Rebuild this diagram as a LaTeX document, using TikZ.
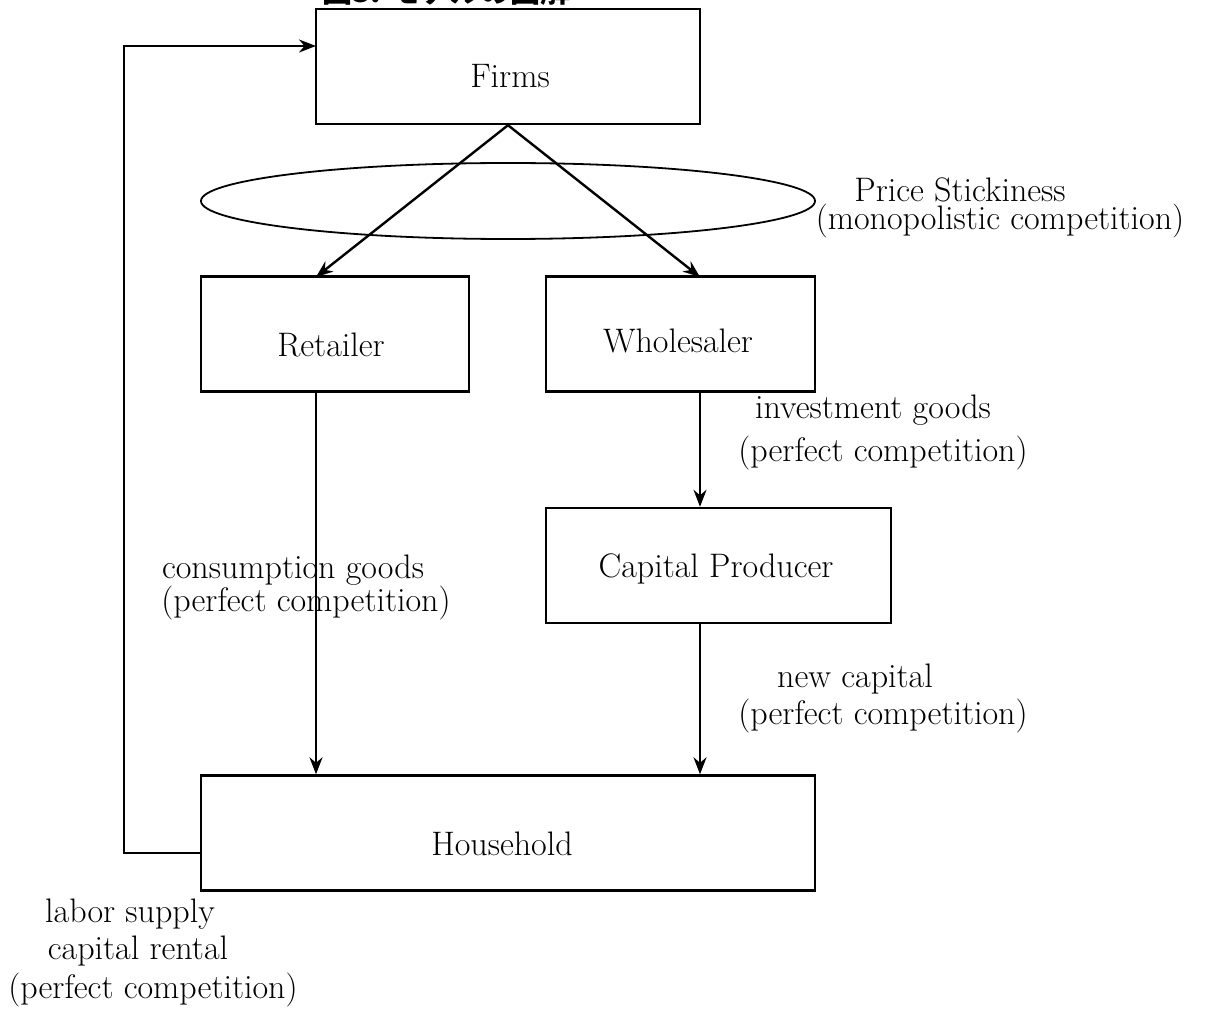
\documentclass[tikz,border=0pt]{standalone}
\usepackage{fontspec}
\newfontfamily\cjk{Noto Sans CJK JP}
\usetikzlibrary{arrows.meta}
\begin{document}
\begin{tikzpicture}[x=1pt,y=-1pt,
  every node/.style={font=\fontsize{34}{40}\selectfont},
  box/.style={draw,line width=2.4pt,minimum width=#1,minimum height=115pt,inner sep=0pt},
  lbl/.style={inner sep=0pt,align=center},
  arr/.style={line width=2.4pt,-{Stealth[length=17pt,width=13pt]}},
  ln/.style={line width=2.4pt}]
\useasboundingbox (0,0) rectangle (1205,1011);
\node[inner sep=0pt,anchor=base west,font=\cjk\bfseries\fontsize{30}{34}\selectfont] (title) at (322,3) {図3. モデルの図解};
\node[box=384pt] (firms) at (508,66.5) {};
\node[lbl] (firmsT) at (510,76) {Firms};
\draw[line width=1.8pt] (508,201) ellipse [x radius=307, y radius=38];
\node[lbl] (ps1) at (960,190) {Price Stickiness};
\node[lbl] (ps2) at (1000,221) {(monopolistic competition)};
\node[box=268pt] (ret) at (335,334) {};
\node[lbl] (retT) at (331,345) {Retailer};
\node[box=269pt] (whole) at (680.5,334) {};
\node[lbl] (wholeT) at (678,341) {Wholesaler};
\node[box=345pt] (cap) at (718.5,565.5) {};
\node[lbl] (capT) at (716,569) {Capital Producer};
\node[box=614pt] (house) at (508,833) {};
\node[lbl] (houseT) at (502,844) {Household};
\coordinate (rtop) at (316,277);
\coordinate (wtop) at (700,277);
\draw[arr] (firms.south) -- (rtop);
\draw[arr] (firms.south) -- (wtop);
\draw[arr] (rtop |- ret.south) -- (rtop |- house.north);
\draw[arr] (wtop |- whole.south) -- (wtop |- cap.north);
\draw[arr] (wtop |- cap.south) -- (wtop |- house.north);
\coordinate (hl) at (201,853);
\coordinate (fl) at (316,46);
\draw[arr] (hl) -- (124,853) -- (124,46) -- (fl);
\node[lbl] (ig1) at (873,410) {investment goods};
\node[lbl] (ig2) at (883,453) {(perfect competition)};
\node[lbl] (cg1) at (293,570) {consumption goods};
\node[lbl] (cg2) at (306,603) {(perfect competition)};
\node[lbl] (nc1) at (855,679) {new capital};
\node[lbl] (nc2) at (883,716) {(perfect competition)};
\node[lbl] (ls1) at (130,914) {labor supply};
\node[lbl] (ls2) at (138,951) {capital rental};
\node[lbl] (ls3) at (153,990) {(perfect competition)};
\end{tikzpicture}
\end{document}
